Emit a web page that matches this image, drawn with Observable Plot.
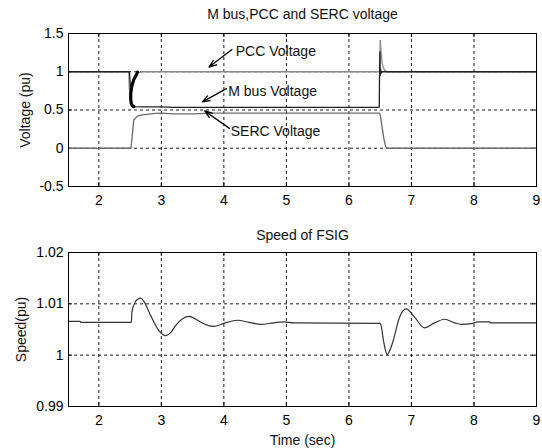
<!DOCTYPE html>
<html><head><meta charset="utf-8">
<script src="https://cdn.jsdelivr.net/npm/d3@7"></script>
<script src="https://cdn.jsdelivr.net/npm/@observablehq/plot@0.6"></script>
<style>
body{margin:0;background:#fff;width:542px;height:448px;overflow:hidden}
#c svg{display:block}
</style>
</head><body><div id="c"></div>
<script>
// ---- tick labels ----
const timeTicks = [2, 3, 4, 5, 6, 7, 8, 9];
const voltageTicks = [-0.5, 0, 0.5, 1, 1.5];
const speedTicks = [0.99, 1, 1.01, 1.02];
const timeDomain = [1.515, 9];

// ---- top panel series: [time (s), voltage (pu)] ----
const pccVoltage = [
  [1.515, 1], [2.48, 1], [2.485, 0.8], [2.49, 0.76], [2.51, 0.8], [2.54, 0.87], [2.58, 0.94],
  [2.62, 0.985], [2.7, 1], [6.49, 1], [6.497, 1.2], [6.5, 1.41], [6.51, 1.3], [6.53, 1.12],
  [6.55, 1.05], [6.58, 1.01], [6.62, 1], [9, 1]
];
const mbusVoltage = [
  [1.515, 1], [2.49, 1], [2.505, 0.8], [2.51, 0.68], [2.52, 0.58], [2.535, 0.555], [2.56, 0.545],
  [2.7, 0.54], [3.0, 0.54], [3.2, 0.535], [4.0, 0.535], [6.485, 0.535], [6.49, 1.0], [6.495, 1.26],
  [6.5, 0.95], [6.505, 1.04], [6.515, 0.98], [6.53, 1], [9, 1]
];
const mbusBurst = [
  [2.62, 0.995], [2.6, 0.96], [2.56, 0.9], [2.53, 0.82], [2.51, 0.72], [2.51, 0.64],
  [2.52, 0.58], [2.535, 0.555], [2.56, 0.545]
];
const sercVoltage = [
  [1.515, 0], [2.513, 0], [2.53, 0.12], [2.545, 0.26], [2.56, 0.37], [2.615, 0.42], [2.69, 0.435],
  [2.91, 0.455], [3.0, 0.458], [3.2, 0.45], [3.5, 0.45], [3.8, 0.458], [4.5, 0.458],
  [6.485, 0.458], [6.5, 0.44], [6.53, 0.28], [6.56, 0.12], [6.585, 0.03], [6.6, 0], [9, 0]
];

// ---- bottom panel series: [time (s), speed (pu)] ----
const fsigSpeed = [
  [1.515, 1.0066], [1.7, 1.0066], [1.71, 1.0064], [2.52, 1.0064], [2.53, 1.0085], [2.58, 1.0103],
  [2.62, 1.0109], [2.668, 1.0111], [2.72, 1.0105], [2.83, 1.0077], [2.96, 1.0048], [3.07, 1.0038],
  [3.15, 1.0044], [3.23, 1.0058], [3.34, 1.0071], [3.44, 1.00754], [3.54, 1.0071], [3.63, 1.0064],
  [3.84, 1.0056], [4.0, 1.0062], [4.22, 1.0068], [4.4, 1.0064], [4.59, 1.006], [4.8, 1.0063],
  [4.96, 1.0065], [5.12, 1.0063], [6.5, 1.0062], [6.52, 1.0055], [6.54, 1.0038], [6.58, 1.0012],
  [6.61, 1.0001], [6.65, 1.0008], [6.7, 1.0025], [6.81, 1.0074], [6.915, 1.009], [7.05, 1.0074],
  [7.21, 1.0053], [7.37, 1.0063], [7.53, 1.007], [7.69, 1.0063], [7.8, 1.006], [7.98, 1.0062],
  [8.06, 1.0065], [8.25, 1.0065], [8.26, 1.0063], [9, 1.0063]
];

// ---- annotations (data coordinates) ----
const annotationLabels = [
  {t: 4.19, v: 1.264, label: "PCC Voltage"},
  {t: 4.07, v: 0.737, label: "M bus Voltage"},
  {t: 4.11, v: 0.219, label: "SERC Voltage"}
];
const annotationArrows = [
  {t1: 4.13, v1: 1.29, t2: 3.763, v2: 1.061},
  {t1: 4.04, v1: 0.78, t2: 3.657, v2: 0.607},
  {t1: 4.09, v1: 0.26, t2: 3.694, v2: 0.487}
];

const font = "'Liberation Sans', Arial, Helvetica, sans-serif";
const style = {fontFamily: font, fontSize: "14px", background: "white", color: "black", overflow: "visible"};
const fmt = d => String(d);
const gridStyle = {stroke: "#000", strokeOpacity: 0.9, strokeWidth: 1, strokeDasharray: "3,3"};
const inner = (ticks, dom) => ticks.filter(d => d > dom[0] && d < dom[1]);

function frameMarks(yTicks, yDom) {
  return [
    Plot.ruleX(inner(timeTicks, timeDomain), gridStyle),
    Plot.ruleY(inner(yTicks, yDom), gridStyle),
    // inward ticks on the top and right edges
    Plot.ruleX(timeTicks, {x: d => d, y1: yDom[1], y2: yDom[1], insetBottom: -4, stroke: "#000"}),
    Plot.ruleY(yTicks, {y: d => d, x1: timeDomain[1], x2: timeDomain[1], insetLeft: -4, stroke: "#000"})
  ];
}

const vDom = [-0.5, 1.5];
const topChart = Plot.plot({
  width: 542, height: 220, marginLeft: 68, marginRight: 6, marginTop: 33, marginBottom: 34,
  style,
  x: {domain: timeDomain, ticks: timeTicks, tickSize: -4, tickPadding: 12.5, tickFormat: fmt, label: null},
  y: {domain: vDom, ticks: voltageTicks, tickSize: -4, tickPadding: 9, tickFormat: fmt, label: null},
  marks: [
    ...frameMarks(voltageTicks, vDom),
    Plot.line(sercVoltage, {x: "0", y: "1", stroke: "#6a6a6a", strokeWidth: 1.3}),
    Plot.line(pccVoltage, {x: "0", y: "1", stroke: "#8a8a8a", strokeWidth: 1.3}),
    Plot.line(mbusVoltage, {x: "0", y: "1", stroke: "#222", strokeWidth: 1.3}),
    Plot.line(mbusBurst, {x: "0", y: "1", stroke: "#000", strokeWidth: 3.2}),
    Plot.arrow(annotationArrows, {x1: "t1", y1: "v1", x2: "t2", y2: "v2", stroke: "#000", strokeWidth: 1.3, headLength: 9, headAngle: 40}),
    Plot.text(annotationLabels, {x: "t", y: "v", text: "label", textAnchor: "start", lineAnchor: "middle", fill: "#111"}),
    Plot.text(["M bus,PCC and SERC voltage"], {frameAnchor: "top", dy: -19, textAnchor: "middle", lineAnchor: "middle", fill: "#111"}),
    Plot.text(["Voltage (pu)"], {frameAnchor: "left", dx: -43, rotate: -90, textAnchor: "middle", lineAnchor: "middle", fill: "#111"}),
    Plot.frame({stroke: "#000", strokeWidth: 1})
  ]
});

const sDom = [0.99, 1.02];
const bottomChart = Plot.plot({
  width: 542, height: 228, marginLeft: 68, marginRight: 6, marginTop: 32, marginBottom: 42,
  style,
  x: {domain: timeDomain, ticks: timeTicks, tickSize: -4, tickPadding: 12.5, tickFormat: fmt, label: null},
  y: {domain: sDom, ticks: speedTicks, tickSize: -4, tickPadding: 9, tickFormat: fmt, label: null},
  marks: [
    ...frameMarks(speedTicks, sDom),
    Plot.line(fsigSpeed, {x: "0", y: "1", stroke: "#333", strokeWidth: 1.2, curve: "monotone-x"}),
    Plot.text(["Speed of FSIG"], {frameAnchor: "top", dy: -17, textAnchor: "middle", lineAnchor: "middle", fill: "#111"}),
    Plot.text(["Time (sec)"], {frameAnchor: "bottom", dy: 33.6, textAnchor: "middle", lineAnchor: "middle", fill: "#111"}),
    Plot.text(["Speed(pu)"], {frameAnchor: "left", dx: -47, rotate: -90, textAnchor: "middle", lineAnchor: "middle", fill: "#111"}),
    Plot.frame({stroke: "#000", strokeWidth: 1})
  ]
});

const c = document.getElementById("c");
c.appendChild(topChart);
c.appendChild(bottomChart);
</script>
</body></html>
